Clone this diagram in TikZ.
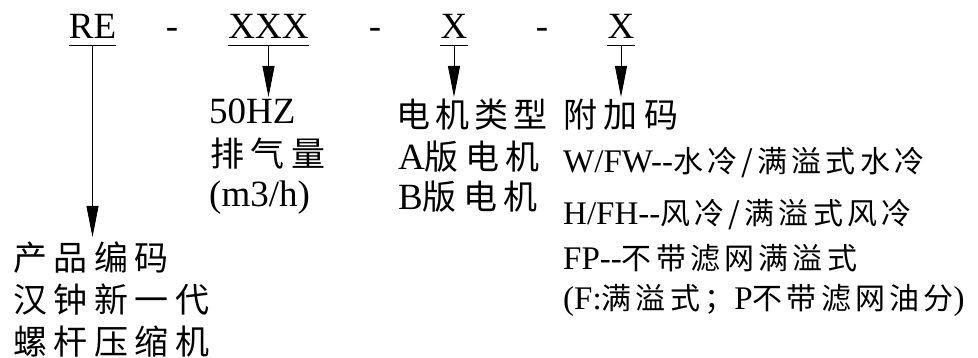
\documentclass[tikz,border=0pt]{standalone}
\usepackage{fontspec}
\setmainfont{Liberation Serif}
\newfontfamily\zhfont{Noto Sans CJK SC}[LetterSpace=19]
\newfontfamily\zhfontb{Noto Sans CJK SC}[LetterSpace=15]
\newfontfamily\zhfonts{Noto Sans CJK SC}[LetterSpace=14]
\usetikzlibrary{arrows.meta}
\newcommand\ZH[1]{{\fontsize{34}{38}\zhfont #1}}
\newcommand\ZHb[1]{{\fontsize{34}{38}\zhfontb #1}}
\newcommand\ZHs[1]{{\fontsize{30}{34}\zhfonts #1}}
\begin{document}
\begin{tikzpicture}[x=1pt,y=-1pt,
  codebox/.style={inner sep=0pt, anchor=base, text depth=7pt,
    font=\fontsize{37}{40}\selectfont},
  dashsep/.style={inner sep=0pt, anchor=base, font=\fontsize{37}{40}\selectfont},
  midtext/.style={inner sep=0pt, anchor=base west, font=\fontsize{37}{40}\selectfont},
  righttext/.style={inner sep=0pt, anchor=base west, font=\fontsize{33}{36}\selectfont},
  uline/.style={line width=0.8pt},
  arr/.style={line width=0.8pt, -{Triangle[length=31pt,width=12pt]}}]
\useasboundingbox (0,0) rectangle (978,358);
% codes
\node[codebox] (re)  at (92.5,38.5) {RE};
\node[codebox] (xxx) at (268.5,38.5) {XXX};
\node[codebox] (x1)  at (454,38.5) {X};
\node[codebox] (x2)  at (621,38.5) {X};
\node[dashsep] (d1) at (172,38.5) {-};
\node[dashsep] (d2) at (375,38.5) {-};
\node[dashsep] (d3) at (542,38.5) {-};
\foreach \n in {re,xxx,x1,x2}{\draw[uline] (\n.south west) -- (\n.south east);}
% arrow tips
\coordinate (t1) at (92.5,237);
\coordinate (t2) at (268.5,97);
\coordinate (t3) at (454,97);
\coordinate (t4) at (621,97);
\draw[arr] (re.south) -- (t1);
\draw[arr] (xxx.south) -- (t2);
\draw[arr] (x1.south) -- (t3);
\draw[arr] (x2.south) -- (t4);
% XXX group
\node[midtext] (hz) at (209,124) {50HZ};
\node[midtext] (pq) at (210,167) {\ZH{排气量}};
\node[midtext] (m3) at (209,207) {(m3/h)};
% motor group
\node[midtext] (dj) at (396,127.5) {\ZHb{电机类型}};
\node[midtext] (da) at (398,169.5) {A\ZH{版电机}};
\node[midtext] (db) at (398,209.5) {B\ZH{版电机}};
% extra code group
\node[midtext] (fj) at (563,127.5) {\ZH{附加码}};
\node[righttext] (r1) at (563,173) {W/FW{-}{-}\ZHs{水冷/满溢式水冷}};
\node[righttext] (r2) at (563,225) {H/FH{-}{-}\ZHs{风冷/满溢式风冷}};
\node[righttext] (r3) at (563,270) {FP{-}{-}\ZHs{不带滤网满溢式}};
\node[righttext] (r4) at (563,310) {(F:\ZHs{满溢式；}P\ZHs{不带滤网油分})};
% product group
\node[midtext] (p1) at (13,270.5) {\ZH{产品编码}};
\node[midtext] (p2) at (13,312.5) {\ZH{汉钟新一代}};
\node[midtext] (p3) at (13,354) {\ZH{螺杆压缩机}};
\end{tikzpicture}
\end{document}
